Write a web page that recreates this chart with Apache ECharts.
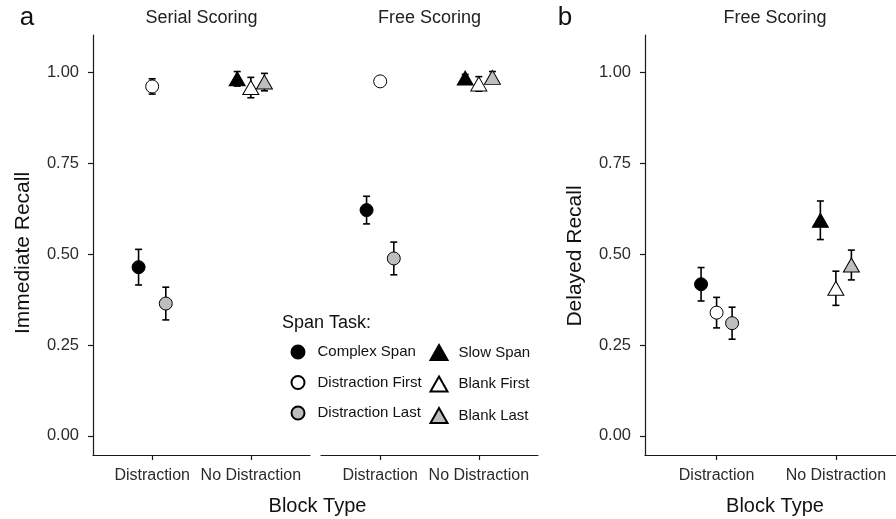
<!DOCTYPE html>
<html><head><meta charset="utf-8">
<script src="https://cdn.jsdelivr.net/npm/echarts@6/dist/echarts.min.js"></script>
<style>html,body{margin:0;padding:0;background:#fff}#c{width:896px;height:519px}</style>
</head><body><div id="c"></div>
<script>
// ---- data ----
const categories = ['Distraction', 'No Distraction'];
const yTicks = [0, 0.25, 0.5, 0.75, 1.0];
const spanTasks = ['Complex Span', 'Distraction First', 'Distraction Last', 'Slow Span', 'Blank First', 'Blank Last'];
const taskBlock = [0, 0, 0, 1, 1, 1]; // which block type each task belongs to
// Immediate recall, serial scoring
const serialMean = [0.464, 0.961, 0.364, 0.982, 0.958, 0.973];
const serialErr  = [0.049, 0.021, 0.045, 0.020, 0.028, 0.024];
// Immediate recall, free scoring
const freeMean = [0.621, 0.975, 0.488, 0.984, 0.968, 0.986];
const freeErr  = [0.038, 0.005, 0.045, 0.010, 0.020, 0.016];
// Delayed recall, free scoring
const delayedMean = [0.417, 0.339, 0.310, 0.593, 0.406, 0.470];
const delayedErr  = [0.046, 0.042, 0.044, 0.053, 0.047, 0.041];

// ---- styles ----
const FONT = '"Liberation Sans", Arial, Helvetica, sans-serif';
const fills = ['#000000', '#ffffff', '#bebebe', '#000000', '#ffffff', '#bebebe'];
const symbols = ['circle', 'circle', 'circle', 'triangle', 'triangle', 'triangle'];
const slot = [-1, 0, 1, -1, 0, 1];
const panels = [
  { mean: serialMean, err: serialErr, dodge: 0.138, left: 93, width: 217, xmax: 2.6, showY: true },
  { mean: freeMean, err: freeErr, dodge: 0.138, left: 321, width: 217, xmax: 2.6, showY: false },
  { mean: delayedMean, err: delayedErr, dodge: 0.13, left: 645, width: 251, xmax: 2.504, showY: true }
];
const lineCol = '#1a1a1a';
const textCol = '#2b2b2b';

const grids = [], xAxes = [], yAxes = [], series = [];
panels.forEach((p, pi) => {
  grids.push({ left: p.left, top: 35, width: p.width, height: 420, outerBoundsMode: 'none', containLabel: false });
  xAxes.push({
    type: 'value', gridIndex: pi, min: 0.4, max: p.xmax,
    axisLine: { show: true, onZero: false, lineStyle: { color: lineCol, width: 1.2 } },
    axisTick: { show: true, length: 5, customValues: [1, 2], lineStyle: { color: lineCol, width: 1.2 } },
    axisLabel: { customValues: [1, 2], formatter: v => categories[Math.round(v) - 1], fontSize: 16, fontFamily: FONT, color: textCol, margin: 13 },
    splitLine: { show: false }
  });
  yAxes.push({
    type: 'value', gridIndex: pi, min: -0.0525, max: 1.1025, show: p.showY,
    axisLine: { show: true, lineStyle: { color: lineCol, width: 1.2 } },
    axisTick: { show: true, length: 5, customValues: yTicks, lineStyle: { color: lineCol, width: 1.2 } },
    axisLabel: { customValues: yTicks, formatter: v => v.toFixed(2), fontSize: 16.5, fontFamily: FONT, color: textCol, margin: 14 },
    splitLine: { show: false }
  });
  // error bars
  series.push({
    type: 'custom', xAxisIndex: pi, yAxisIndex: pi, z: 2, silent: true,
    data: spanTasks.map((t, i) => [taskBlock[i] + 1 + slot[i] * p.dodge, p.mean[i] - p.err[i], p.mean[i] + p.err[i]]),
    renderItem: (params, api) => {
      const x = api.value(0);
      const lo = api.coord([x, api.value(1)]);
      const hi = api.coord([x, api.value(2)]);
      const hw = 3.5;
      const st = { stroke: '#000', lineWidth: 1.6 };
      return { type: 'group', children: [
        { type: 'line', shape: { x1: lo[0], y1: lo[1], x2: hi[0], y2: hi[1] }, style: st },
        { type: 'line', shape: { x1: lo[0] - hw, y1: lo[1], x2: lo[0] + hw, y2: lo[1] }, style: st },
        { type: 'line', shape: { x1: hi[0] - hw, y1: hi[1], x2: hi[0] + hw, y2: hi[1] }, style: st }
      ] };
    }
  });
  spanTasks.forEach((t, i) => {
    series.push({
      type: 'scatter', name: t, xAxisIndex: pi, yAxisIndex: pi, z: 3,
      symbol: symbols[i], symbolSize: symbols[i] === 'circle' ? 13 : [16, 14],
      itemStyle: { color: fills[i], borderColor: '#000', borderWidth: 1, opacity: 1 },
      data: [[taskBlock[i] + 1 + slot[i] * p.dodge, p.mean[i]]]
    });
  });
});

const legendText = { fontSize: 15, fontFamily: FONT, color: '#111', lineHeight: 16 };
const option = {
  animation: false,
  backgroundColor: '#ffffff',
  grid: grids, xAxis: xAxes, yAxis: yAxes, series: series,
  legend: [
    { data: spanTasks.slice(0, 3), orient: 'vertical', left: 290.5, top: 344, padding: 0, itemGap: 14.5,
      itemWidth: 13, itemHeight: 13, selectedMode: false,
      textStyle: Object.assign({ padding: [0, 0, 0, 8] }, legendText) },
    { data: spanTasks.slice(3, 6), orient: 'vertical', left: 429.5, top: 344, padding: 0, itemGap: 14.5,
      itemWidth: 17, itemHeight: 15, selectedMode: false,
      textStyle: Object.assign({ padding: [0, 0, 0, 6] }, legendText) }
  ],
  graphic: [
    { type: 'text', x: 27, y: 18, style: { text: 'a', font: '26px ' + FONT, fill: '#111', textAlign: 'center', textVerticalAlign: 'middle' } },
    { type: 'text', x: 565, y: 18, style: { text: 'b', font: '26px ' + FONT, fill: '#111', textAlign: 'center', textVerticalAlign: 'middle' } },
    { type: 'text', x: 201.5, y: 18, style: { text: 'Serial Scoring', font: '18px ' + FONT, fill: '#222', textAlign: 'center', textVerticalAlign: 'middle' } },
    { type: 'text', x: 429.5, y: 18, style: { text: 'Free Scoring', font: '18px ' + FONT, fill: '#222', textAlign: 'center', textVerticalAlign: 'middle' } },
    { type: 'text', x: 775, y: 18, style: { text: 'Free Scoring', font: '18px ' + FONT, fill: '#222', textAlign: 'center', textVerticalAlign: 'middle' } },
    { type: 'text', x: 282, y: 323, style: { text: 'Span Task:', font: '18px ' + FONT, fill: '#111', textAlign: 'left', textVerticalAlign: 'middle' } },
    { type: 'text', x: 317.5, y: 506, style: { text: 'Block Type', font: '20px ' + FONT, fill: '#111', textAlign: 'center', textVerticalAlign: 'middle' } },
    { type: 'text', x: 775, y: 506, style: { text: 'Block Type', font: '20px ' + FONT, fill: '#111', textAlign: 'center', textVerticalAlign: 'middle' } },
    { type: 'text', x: 23, y: 253, rotation: Math.PI / 2, style: { text: 'Immediate Recall', font: '21px ' + FONT, fill: '#111', textAlign: 'center', textVerticalAlign: 'middle' } },
    { type: 'text', x: 575, y: 256, rotation: Math.PI / 2, style: { text: 'Delayed Recall', font: '21px ' + FONT, fill: '#111', textAlign: 'center', textVerticalAlign: 'middle' } }
  ]
};
const chart = echarts.init(document.getElementById('c'), null, { renderer: 'canvas' });
chart.setOption(option);
</script>
</body></html>
